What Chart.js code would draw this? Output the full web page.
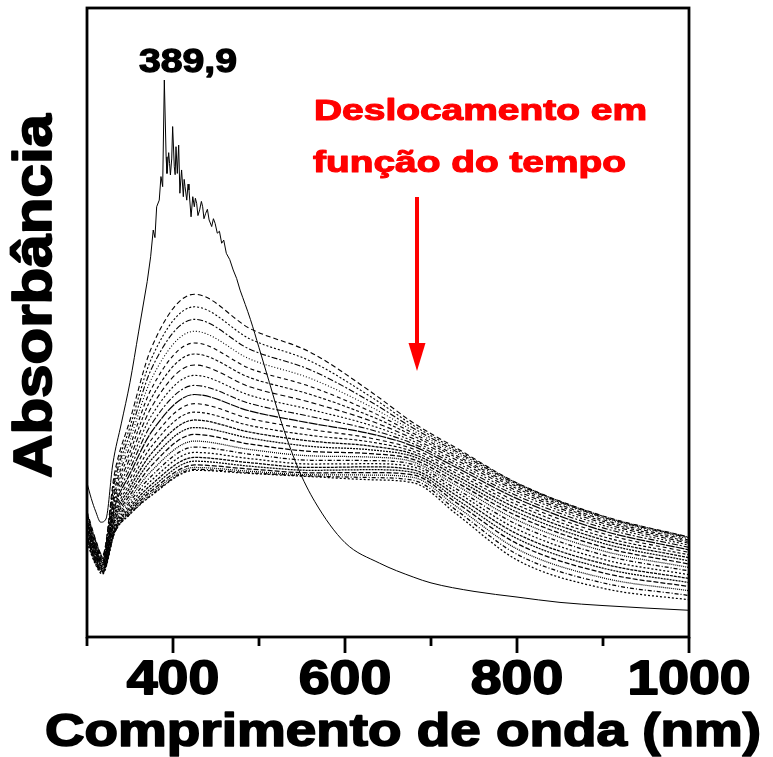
<!DOCTYPE html>
<html>
<head>
<meta charset="utf-8">
<script src="https://cdn.jsdelivr.net/npm/chart.js@4.4.1/dist/chart.umd.min.js"></script>
<style>
  html, body { margin: 0; padding: 0; background: #fff; }
  #wrap { width: 773px; height: 757px; }
</style>
</head>
<body>
<div id="wrap"><canvas id="uvChart" width="773" height="757"></canvas></div>
<script>
// espectro inicial (linha contínua, com ruído na banda ~390 nm)
const initialWavelengths = [300, 305, 310, 316, 322, 330, 340, 350, 360, 370, 374, 377, 379, 381, 384, 386, 388, 389.9, 392, 393, 395, 396, 397, 398.5, 399.6, 401.5, 402.5, 403.5, 405, 406.6, 408, 409, 410, 412, 413, 414, 416, 417.5, 418.6, 421, 423, 424.8, 426, 427.5, 429, 431, 433, 434.5, 436, 438, 440, 442, 445, 447, 449, 451.5, 454, 456.6, 459, 462, 466, 470, 474, 478, 490, 500, 512, 524, 545, 565, 600, 640, 680, 700, 750, 800, 850, 900, 950, 1000];
const initialAbsorbance = [0.490, 0.440, 0.400, 0.365, 0.375, 0.550, 0.680, 0.810, 0.970, 1.130, 1.209, 1.294, 1.270, 1.368, 1.389, 1.464, 1.432, 1.771, 1.527, 1.474, 1.540, 1.506, 1.469, 1.520, 1.623, 1.495, 1.470, 1.559, 1.474, 1.564, 1.411, 1.450, 1.485, 1.400, 1.455, 1.432, 1.389, 1.440, 1.421, 1.336, 1.400, 1.368, 1.395, 1.379, 1.340, 1.358, 1.385, 1.368, 1.330, 1.347, 1.360, 1.326, 1.305, 1.330, 1.315, 1.284, 1.290, 1.252, 1.262, 1.220, 1.200, 1.167, 1.140, 1.103, 1.010, 0.920, 0.810, 0.700, 0.540, 0.430, 0.300, 0.235, 0.190, 0.172, 0.145, 0.127, 0.110, 0.100, 0.092, 0.085];
// faixa ruidosa do espectro inicial (desenhada com segmentos retos)
const noisyRange = [370, 478];

// espectros registrados ao longo do tempo (linhas tracejadas)
const timeWavelengths = [300, 310, 318, 332, 350, 375, 425, 490, 560, 630, 680, 730, 800, 900, 1000];
const timeSpectra = [
  [0.400, 0.310, 0.260, 0.520, 0.690, 0.920, 1.090, 0.980, 0.905, 0.780, 0.680, 0.600, 0.490, 0.385, 0.318],
  [0.396, 0.307, 0.257, 0.506, 0.668, 0.886, 1.050, 0.947, 0.877, 0.764, 0.672, 0.595, 0.489, 0.384, 0.317],
  [0.391, 0.303, 0.255, 0.493, 0.647, 0.853, 1.010, 0.914, 0.849, 0.748, 0.663, 0.589, 0.486, 0.381, 0.315],
  [0.387, 0.300, 0.252, 0.480, 0.627, 0.821, 0.972, 0.883, 0.822, 0.732, 0.655, 0.583, 0.482, 0.378, 0.312],
  [0.383, 0.296, 0.250, 0.467, 0.607, 0.790, 0.935, 0.853, 0.796, 0.717, 0.647, 0.576, 0.478, 0.373, 0.308],
  [0.378, 0.293, 0.247, 0.455, 0.588, 0.760, 0.900, 0.824, 0.771, 0.702, 0.639, 0.570, 0.472, 0.368, 0.303],
  [0.374, 0.289, 0.244, 0.444, 0.569, 0.731, 0.865, 0.795, 0.746, 0.687, 0.630, 0.562, 0.465, 0.362, 0.298],
  [0.370, 0.286, 0.242, 0.433, 0.552, 0.704, 0.832, 0.768, 0.723, 0.673, 0.622, 0.554, 0.458, 0.355, 0.292],
  [0.365, 0.282, 0.239, 0.422, 0.535, 0.677, 0.800, 0.742, 0.701, 0.659, 0.614, 0.546, 0.449, 0.347, 0.285],
  [0.361, 0.279, 0.237, 0.412, 0.519, 0.652, 0.771, 0.718, 0.680, 0.646, 0.606, 0.538, 0.440, 0.338, 0.277],
  [0.357, 0.275, 0.234, 0.402, 0.504, 0.628, 0.742, 0.694, 0.660, 0.632, 0.597, 0.529, 0.430, 0.329, 0.269],
  [0.352, 0.272, 0.231, 0.393, 0.489, 0.606, 0.715, 0.672, 0.641, 0.620, 0.589, 0.520, 0.420, 0.319, 0.261],
  [0.348, 0.268, 0.229, 0.384, 0.476, 0.584, 0.690, 0.651, 0.623, 0.607, 0.581, 0.511, 0.409, 0.309, 0.252],
  [0.344, 0.265, 0.226, 0.376, 0.463, 0.564, 0.666, 0.632, 0.606, 0.595, 0.573, 0.501, 0.397, 0.298, 0.242],
  [0.339, 0.261, 0.223, 0.369, 0.451, 0.545, 0.644, 0.613, 0.590, 0.583, 0.564, 0.491, 0.385, 0.286, 0.232],
  [0.335, 0.258, 0.221, 0.362, 0.440, 0.528, 0.623, 0.596, 0.576, 0.572, 0.556, 0.481, 0.372, 0.274, 0.221],
  [0.330, 0.254, 0.218, 0.355, 0.430, 0.512, 0.604, 0.581, 0.562, 0.561, 0.548, 0.470, 0.358, 0.261, 0.210],
  [0.326, 0.251, 0.216, 0.349, 0.421, 0.498, 0.587, 0.567, 0.550, 0.551, 0.540, 0.460, 0.343, 0.247, 0.198],
  [0.322, 0.247, 0.213, 0.344, 0.412, 0.485, 0.571, 0.554, 0.539, 0.541, 0.531, 0.449, 0.328, 0.233, 0.186],
  [0.317, 0.244, 0.210, 0.340, 0.405, 0.474, 0.559, 0.543, 0.530, 0.532, 0.523, 0.437, 0.313, 0.219, 0.173],
  [0.313, 0.240, 0.208, 0.336, 0.399, 0.465, 0.547, 0.534, 0.522, 0.523, 0.515, 0.426, 0.297, 0.204, 0.160],
  [0.309, 0.237, 0.205, 0.333, 0.395, 0.458, 0.539, 0.527, 0.516, 0.515, 0.507, 0.414, 0.280, 0.188, 0.147],
  [0.304, 0.233, 0.203, 0.331, 0.391, 0.452, 0.533, 0.522, 0.512, 0.507, 0.498, 0.402, 0.263, 0.172, 0.132],
  [0.300, 0.230, 0.200, 0.330, 0.390, 0.450, 0.530, 0.520, 0.510, 0.500, 0.490, 0.390, 0.245, 0.155, 0.118]
];

// eixo x
const xTickValues = [300, 400, 500, 600, 700, 800, 900, 1000];
const xTickLabels = ['', '400', '', '600', '', '800', '', '1000'];

// textos
const xTitle = 'Comprimento de onda (nm)';
const yTitle = 'Absorbância';
const peakLabel = '389,9';
const shiftNote = ['Deslocamento em', 'função do tempo'];

const FONT = '"Liberation Sans", Arial, Helvetica, sans-serif';
const dashStyles = [[5, 3], [2, 2], [6, 2, 2, 2], [1, 2], [4, 3], [3, 2]];
const denseDashStyles = [[3, 1], [2, 1], [5, 2], [1, 1], [4, 2, 1, 2], [2, 2]];

// texto em negrito "pesado": preenchimento + contorno, com ajuste de largura
function drawText(ctx, text, x, y, size, opts) {
  opts = opts || {};
  const color = opts.color || '#000';
  ctx.save();
  ctx.font = `bold ${size}px ${FONT}`;
  ctx.fillStyle = color;
  ctx.strokeStyle = color;
  ctx.lineJoin = 'round';
  ctx.textAlign = opts.align || 'left';
  ctx.textBaseline = 'alphabetic';
  const w = ctx.measureText(text).width;
  const sx = opts.width ? opts.width / w : (opts.stretch || 1);
  ctx.translate(x, y);
  if (opts.rotate) ctx.rotate(opts.rotate);
  ctx.scale(sx, 1);
  ctx.fillText(text, 0, 0);
  ctx.lineWidth = (opts.heavy || 1.6) / sx;
  ctx.strokeText(text, 0, 0);
  ctx.restore();
}

const frameAndLabels = {
  id: 'frameAndLabels',
  afterDraw(chart) {
    const { ctx, chartArea: a } = chart;
    const x = chart.scales.x;
    ctx.save();
    ctx.strokeStyle = '#000';
    ctx.lineWidth = 2.8;
    ctx.strokeRect(a.left, a.top, a.right - a.left, a.bottom - a.top);

    // marcas do eixo x (principais e secundárias)
    xTickValues.forEach((v, i) => {
      const px = Math.round(x.getPixelForValue(v));
      const len = xTickLabels[i] ? 16 : 9;
      ctx.beginPath();
      ctx.moveTo(px, a.bottom);
      ctx.lineTo(px, a.bottom + len);
      ctx.stroke();
      if (xTickLabels[i]) {
        drawText(ctx, xTickLabels[i], px, 694, 49, { align: 'center', stretch: 1.13, heavy: 2 });
      }
    });
    ctx.restore();

    drawText(ctx, xTitle, 45, 746, 46, { width: 716, heavy: 2 });
    drawText(ctx, yTitle, 51, 296, 53, { align: 'center', rotate: -Math.PI / 2, width: 364, heavy: 2 });

    // rótulo do pico
    drawText(ctx, peakLabel, 139, 72, 34, { width: 98, heavy: 1.5 });

    // anotação em vermelho e seta
    drawText(ctx, shiftNote[0], 314, 120, 30, { width: 333, color: '#ff0000', heavy: 1.5 });
    drawText(ctx, shiftNote[1], 313, 172, 30, { width: 313, color: '#ff0000', heavy: 1.5 });
    ctx.save();
    ctx.strokeStyle = '#ff0000';
    ctx.fillStyle = '#ff0000';
    ctx.lineWidth = 4;
    ctx.beginPath();
    ctx.moveTo(417, 197);
    ctx.lineTo(417, 346);
    ctx.stroke();
    ctx.beginPath();
    ctx.moveTo(408.5, 343);
    ctx.lineTo(425.5, 343);
    ctx.lineTo(417, 371);
    ctx.closePath();
    ctx.fill();
    ctx.restore();
  }
};

const initialPoints = initialWavelengths.map((w, i) => ({ x: w, y: initialAbsorbance[i] }));
const inNoise = p => p.x >= noisyRange[0] && p.x <= noisyRange[1];

const datasets = [
  {
    label: 'inicial (ruído)',
    data: initialPoints.filter(inNoise),
    borderColor: '#000',
    borderWidth: 1,
    pointRadius: 0,
    tension: 0
  },
  {
    label: 'inicial (UV)',
    data: initialPoints.filter(p => p.x <= noisyRange[0]),
    borderColor: '#000',
    borderWidth: 1,
    pointRadius: 0,
    cubicInterpolationMode: 'monotone'
  },
  {
    label: 'inicial (vis/NIR)',
    data: initialPoints.filter(p => p.x >= noisyRange[1]),
    borderColor: '#000',
    borderWidth: 1,
    pointRadius: 0,
    cubicInterpolationMode: 'monotone'
  }
];

timeSpectra.forEach((row, k) => {
  const lower = k >= 12;
  datasets.push({
    label: 't' + (k + 1),
    data: timeWavelengths.map((w, i) => ({ x: w, y: row[i] })),
    borderColor: '#000',
    borderWidth: k === 9 ? 1.2 : (lower ? 1.25 : 1.1),
    borderDash: k === 9 ? [9, 1] : (lower ? denseDashStyles[k % 6] : dashStyles[k % 6]),
    pointRadius: 0,
    cubicInterpolationMode: 'monotone'
  });
});

new Chart(document.getElementById('uvChart'), {
  type: 'line',
  data: { datasets },
  options: {
    responsive: false,
    animation: false,
    layout: { padding: { left: 87, right: 84, top: 8, bottom: 120 } },
    plugins: { legend: { display: false }, tooltip: { enabled: false } },
    scales: {
      x: { type: 'linear', min: 300, max: 1000, display: false },
      y: { min: 0, max: 2.0, display: false }
    }
  },
  plugins: [frameAndLabels]
});
</script>
</body>
</html>
